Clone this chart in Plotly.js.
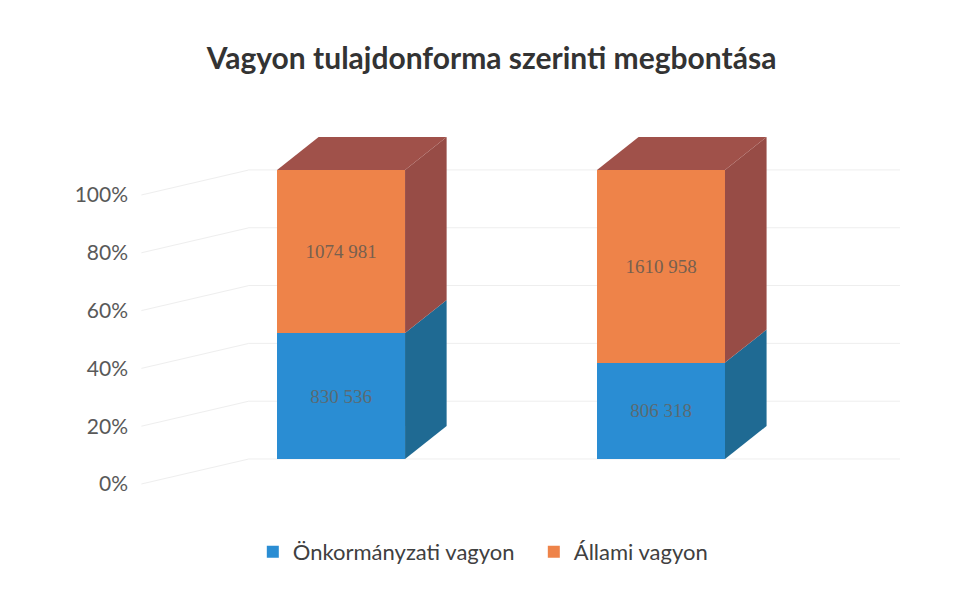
<!DOCTYPE html>
<html>
<head>
<meta charset="utf-8">
<script src="https://cdn.plot.ly/plotly-3.0.1.min.js"></script>
<style>
  html, body { margin: 0; padding: 0; background: #ffffff; }
  #chart { width: 960px; height: 589px; }
</style>
</head>
<body>
<div id="chart"></div>
<script>
// ---- data ----
var categories = ["1", "2"];
var onkormanyzati = [830536, 806318];
var allami = [1074981, 1610958];
var seriesNames = ["Önkormányzati vagyon", "Állami vagyon"];
var tickVals = [0, 20, 40, 60, 80, 100];
var tickText = ["0%", "20%", "40%", "60%", "80%", "100%"];

// ---- style ----
var frontColors = ["#2A8DD3", "#EE8349"];
var sideColors = ["#1F6A93", "#974C46"];
var topColor = "#A0514A";
var gridColor = "#EEEEEE";
var FONT = "Lato, 'Open Sans', sans-serif";

var xPos = categories.map(function (c, i) { return i; });
var totals = onkormanyzati.map(function (v, i) { return v + allami[i]; });
var pct1 = onkormanyzati.map(function (v, i) { return v / totals[i] * 100; });
var pct2 = allami.map(function (v, i) { return v / totals[i] * 100; });

// format like the source: space before the last three digits only
function fmt(v) {
  var s = String(v);
  return s.length > 3 ? s.slice(0, s.length - 3) + " " + s.slice(-3) : s;
}

var barW = 0.4;
var depthX = 0.13;   // 3D depth offset (x units)
var depthY = 11.4;   // 3D depth offset (y units)
var shift = 8.6;     // offset between label axis and bar axis

var labelFont = "'Liberation Serif', 'DejaVu Serif', serif";
var traces = [
  {
    type: "bar", name: seriesNames[0], x: xPos, y: pct1, width: barW,
    yaxis: "y2",
    marker: { color: frontColors[0], line: { width: 0 } },
    text: onkormanyzati.map(fmt), textposition: "inside", insidetextanchor: "middle",
    textfont: { family: labelFont, size: 19, color: "#5A6A72" },
    hoverinfo: "name+text"
  },
  {
    type: "bar", name: seriesNames[1], x: xPos, y: pct2, width: barW,
    yaxis: "y2",
    marker: { color: frontColors[1], line: { width: 0 } },
    text: allami.map(fmt), textposition: "inside", insidetextanchor: "middle",
    textfont: { family: labelFont, size: 19, color: "#76604F" },
    hoverinfo: "name+text"
  }
];

var shapes = [];
var xLeft = -0.644, xBack = -0.29, xRight = 1.75;
// gridlines: back wall + left side wall diagonal
tickVals.forEach(function (v) {
  shapes.push({ type: "line", xref: "x", yref: "y2", x0: xBack, x1: xRight, y0: v, y1: v,
    line: { color: gridColor, width: 1 }, layer: "below" });
  shapes.push({ type: "line", xref: "x", yref: "y", x0: xLeft + 0.02, x1: xBack, y0: v, y1: v + shift,
    line: { color: gridColor, width: 1 }, layer: "below" });
});
// 3D side and top faces
xPos.forEach(function (xi, i) {
  var xr = xi + barW / 2, xl = xi - barW / 2;
  var segs = [[0, pct1[i], sideColors[0]], [pct1[i], pct1[i] + pct2[i], sideColors[1]]];
  segs.forEach(function (s) {
    shapes.push({
      type: "path", xref: "x", yref: "y2",
      path: "M" + xr + "," + s[0] + " L" + (xr + depthX) + "," + (s[0] + depthY) +
            " L" + (xr + depthX) + "," + (s[1] + depthY) + " L" + xr + "," + s[1] + " Z",
      fillcolor: s[2], line: { width: 0 }, layer: "above"
    });
  });
  var t = pct1[i] + pct2[i];
  shapes.push({
    type: "path", xref: "x", yref: "y2",
    path: "M" + xl + "," + t + " L" + xr + "," + t + " L" + (xr + depthX) + "," + (t + depthY) +
          " L" + (xl + depthX) + "," + (t + depthY) + " Z",
    fillcolor: topColor, line: { width: 0 }, layer: "above"
  });
});

var layout = {
  width: 960, height: 589,
  paper_bgcolor: "#ffffff", plot_bgcolor: "rgba(0,0,0,0)",
  margin: { l: 135, r: 60, t: 100, b: 89 },
  title: {
    text: "<b>Vagyon tulajdonforma szerinti megbontása</b>",
    font: { family: FONT, size: 30, color: "#333333" },
    x: 0.512, xanchor: "center", y: 0.9, yanchor: "middle"
  },
  barmode: "stack",
  bargap: 0,
  showlegend: true,
  legend: {
    orientation: "h", x: 0.154, xanchor: "left", y: -0.13, yanchor: "middle",
    font: { family: FONT, size: 22, color: "#404040" },
    traceorder: "normal", itemwidth: 30, itemsizing: "constant",
    entrywidth: 236, entrywidthmode: "pixels"
  },
  xaxis: {
    type: "linear", range: [-0.644, 1.747],
    showgrid: false, zeroline: false, showticklabels: false, showline: false, ticks: ""
  },
  yaxis: {
    range: [-5.54, 132.87], tickvals: tickVals, ticktext: tickText,
    showgrid: false, zeroline: false, showline: false, ticks: "",
    tickfont: { family: FONT, size: 21, color: "#595959" },
    ticklabelstandoff: 6, fixedrange: true
  },
  yaxis2: {
    overlaying: "y", range: [-14.19, 124.2],
    showgrid: false, zeroline: false, showticklabels: false, showline: false, ticks: ""
  },
  shapes: shapes
};

Plotly.newPlot("chart", traces, layout, { displayModeBar: false, staticPlot: true });
</script>
</body>
</html>
